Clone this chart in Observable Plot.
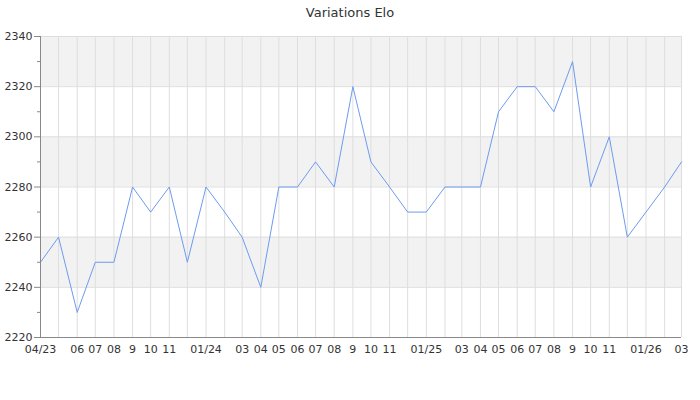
<!DOCTYPE html>
<html><head><meta charset="utf-8">
<script src="https://cdn.jsdelivr.net/npm/d3@7"></script>
<script src="https://cdn.jsdelivr.net/npm/@observablehq/plot@0.6"></script>
<style>
body{margin:0;background:#fff;font-family:"DejaVu Sans",sans-serif;}
#title{height:25px;line-height:25px;text-align:center;font-size:13px;color:#333;}
</style></head><body>
<div id="title">Variations Elo</div>
<div id="chart"></div>
<script>
const months = ["2023-04","2023-05","2023-06","2023-07","2023-08","2023-09","2023-10","2023-11","2023-12",
  "2024-01","2024-02","2024-03","2024-04","2024-05","2024-06","2024-07","2024-08","2024-09","2024-10","2024-11","2024-12",
  "2025-01","2025-02","2025-03","2025-04","2025-05","2025-06","2025-07","2025-08","2025-09","2025-10","2025-11","2025-12",
  "2026-01","2026-02","2026-03"];
const elo = [2250,2260,2230,2250,2250,2280,2270,2280,2250,
  2280,2270,2260,2240,2280,2280,2290,2280,2320,2290,2280,2270,
  2270,2280,2280,2280,2310,2320,2320,2310,2330,2280,2300,2260,
  2270,2280,2290];
const monthLabels = ["04/23","","06","07","08","9","10","11","",
  "01/24","","03","04","05","06","07","08","9","10","11","",
  "01/25","","03","04","05","06","07","08","9","10","11","",
  "01/26","","03"];
const yTicks = [2220,2240,2260,2280,2300,2320,2340];
const yMinorTicks = [2230,2250,2270,2290,2310,2330];
const shadedBands = [[2240,2260],[2280,2300],[2320,2340]];

const parse = s => { const [y,m] = s.split("-").map(Number); return new Date(Date.UTC(y, m-1, 1)); };
const dates = months.map(parse);
const data = dates.map((d,i) => ({date: d, elo: elo[i]}));
const labelMap = new Map(dates.map((d,i) => [d.getTime(), monthLabels[i]]));
const x0 = dates[0], x1 = dates[dates.length-1];
const bands = shadedBands.map(([a,b]) => ({y1:a, y2:b}));

const chart = Plot.plot({
  width: 700, height: 375,
  marginTop: 11, marginBottom: 63, marginLeft: 40, marginRight: 19,
  style: {fontFamily: "DejaVu Sans, sans-serif", fontSize: "11px", color: "#333", background: "#fff"},
  x: {type: "utc", domain: [x0, x1]},
  y: {domain: [2220, 2340]},
  marks: [
    Plot.rect(bands, {x1: () => x0, x2: () => x1, y1: "y1", y2: "y2", fill: "#f2f2f2"}),
    Plot.ruleY(yTicks, {stroke: "#dedede", strokeWidth: 1}),
    Plot.ruleX(dates, {stroke: "#dedede", strokeWidth: 1}),
    Plot.line(data, {x: "date", y: "elo", stroke: "#6d9bf0", strokeWidth: 1}),
    Plot.ruleX([x0], {stroke: "#888"}),
    Plot.ruleY([2220], {stroke: "#888"}),
    Plot.axisY(yTicks, {tickSize: 6, tickPadding: 2, tickFormat: d => String(d), stroke: "#888", fill: "#333", label: null}),
    Plot.axisY(yMinorTicks, {tickSize: 3, tickFormat: () => "", stroke: "#888", label: null}),
    Plot.axisX(dates, {tickSize: 0, tickPadding: 8, tickFormat: d => labelMap.get(d.getTime()), fill: "#333", label: null})
  ]
});
document.getElementById("chart").appendChild(chart);
</script>
</body></html>
